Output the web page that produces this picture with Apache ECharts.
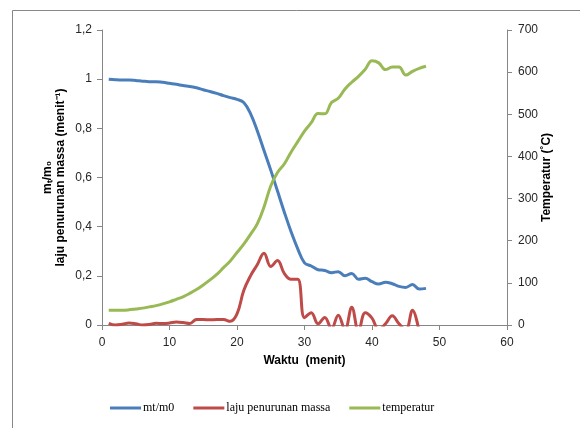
<!DOCTYPE html>
<html>
<head>
<meta charset="utf-8">
<script src="https://cdn.jsdelivr.net/npm/echarts@6/dist/echarts.min.js"></script>
<style>
html,body{margin:0;padding:0;background:#fff;}
#chart{width:580px;height:428px;}
</style>
</head>
<body>
<div id="chart"></div>
<script>
// time in minutes
const minutes = [1,2,3,4,5,6,7,8,9,10,11,12,13,14,15,16,17,18,19,20,21,22,23,24,25,26,27,28,29,30,31,32,33,34,35,36,37,38,39,40,41,42,43,44,45,46,47,48];
// mt/m0
const massRatio = [1.0,0.998,0.997,0.997,0.995,0.992,0.99,0.99,0.987,0.983,0.979,0.974,0.97,0.965,0.957,0.95,0.942,0.933,0.925,0.918,0.905,0.86,0.79,0.71,0.63,0.545,0.46,0.38,0.31,0.253,0.24,0.225,0.222,0.213,0.217,0.2,0.21,0.186,0.19,0.176,0.167,0.174,0.168,0.157,0.153,0.165,0.146,0.149];
// laju penurunan massa (minutes 1..47)
const massLossRate = [0.007,0,0.003,0.008,0.005,0,0.002,0.007,0.006,0.008,0.012,0.01,0.006,0.022,0.022,0.021,0.022,0.022,0.015,0.045,0.14,0.2,0.245,0.292,0.238,0.262,0.21,0.186,0.186,0.03,0.05,0.005,0.031,-0.015,0.04,-0.02,0.072,-0.025,0.05,0.028,-0.02,0.005,0.038,0.005,-0.02,0.06,-0.03];
// temperatur (°C)
const temperature = [35,35,35,36,38,40,43,46,50,55,61,67,75,84,95,107,120,136,152,172,192,215,240,280,330,362,382,410,435,460,480,502,501,528,538,560,576,590,607,627,622,606,612,612,593,602,609,614];

const seriesNames = ['mt/m0','laju penurunan massa','temperatur'];
const xTicks = {min:0,max:60,interval:10};
const leftTicks = {min:0,max:1.2,interval:0.2};
const rightTicks = {min:0,max:700,interval:100};

function pairs(xs, ys){ return ys.map((y,i)=>[xs[i],y]); }

const chart = echarts.init(document.getElementById('chart'), null, {renderer:'canvas'});
const axisColor = '#868686';
const labelFont = {color:'#262626', fontFamily:'Liberation Sans', fontSize:12};
chart.setOption({
  animation:false,
  backgroundColor:'#fff',
  graphic:[{type:'rect', shape:{x:12.5,y:10.5,width:620,height:480}, style:{fill:'none',stroke:'#878787',lineWidth:1}, silent:true}],
  grid:{left:102,right:73,top:30,bottom:103,containLabel:false},
  legend:{
    left:105, top:397,
    itemWidth:31, itemHeight:3, itemGap:19,
    icon:'rect',
    textStyle:{fontFamily:'Liberation Serif', fontSize:12, color:'#000', padding:[0,0,0,-3]},
    data:seriesNames
  },
  xAxis:{
    type:'value', min:xTicks.min, max:xTicks.max, interval:xTicks.interval,
    name:'Waktu  (menit)', nameLocation:'middle', nameGap:30, nameMoveOverlap:false,
    nameTextStyle:{fontFamily:'Liberation Sans', fontSize:12, fontWeight:'bold', color:'#000'},
    axisLine:{show:true, lineStyle:{color:axisColor}},
    axisTick:{show:true, length:5, lineStyle:{color:axisColor}},
    axisLabel:Object.assign({margin:12}, labelFont),
    splitLine:{show:false}
  },
  yAxis:[{
    type:'value', position:'left', min:leftTicks.min, max:leftTicks.max, interval:leftTicks.interval,
    name:'mₜ/m₀\nlaju penurunan massa (menit⁻¹)', nameLocation:'middle', nameGap:35, nameRotate:90, nameMoveOverlap:false,
    nameTextStyle:{fontFamily:'Liberation Sans', fontSize:12, fontWeight:'bold', color:'#000', lineHeight:13},
    axisLine:{show:true, lineStyle:{color:axisColor}},
    axisTick:{show:true, length:5, lineStyle:{color:axisColor}},
    axisLabel:Object.assign({margin:10, formatter:v=> Number.isInteger(v)? String(v) : v.toFixed(1).replace('.',',')}, labelFont),
    splitLine:{show:false}
  },{
    type:'value', position:'right', min:rightTicks.min, max:rightTicks.max, interval:rightTicks.interval,
    name:'Temperatur (˚C)', nameLocation:'middle', nameGap:34, nameRotate:90, nameMoveOverlap:false,
    nameTextStyle:{fontFamily:'Liberation Sans', fontSize:12, fontWeight:'bold', color:'#000'},
    axisLine:{show:true, lineStyle:{color:axisColor}},
    axisTick:{show:true, length:5, lineStyle:{color:axisColor}},
    axisLabel:Object.assign({margin:11}, labelFont),
    splitLine:{show:false}
  }],
  series:[
    {name:seriesNames[0], type:'line', yAxisIndex:0, data:pairs(minutes, massRatio), smooth:0.4, showSymbol:false, clip:true,
     lineStyle:{color:'#4A7EBB', width:3}, itemStyle:{color:'#4A7EBB'}},
    {name:seriesNames[1], type:'line', yAxisIndex:0, data:pairs(minutes, massLossRate), smooth:0.4, showSymbol:false, clip:true,
     lineStyle:{color:'#BE4B48', width:3}, itemStyle:{color:'#BE4B48'}},
    {name:seriesNames[2], type:'line', yAxisIndex:1, data:pairs(minutes, temperature), smooth:0.4, showSymbol:false, clip:true,
     lineStyle:{color:'#98B954', width:3}, itemStyle:{color:'#98B954'}}
  ]
});
</script>
</body>
</html>
